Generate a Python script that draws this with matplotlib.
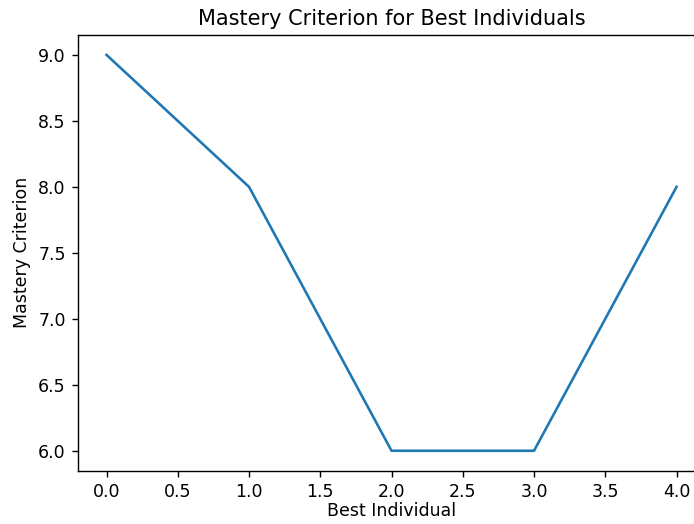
import matplotlib
matplotlib.use('Agg')
import matplotlib.pyplot as plt

# 最优个体的掌握度
individuals = [0, 1, 2, 3, 4]
mastery = [9, 8, 6, 6, 8]

fig = plt.figure(figsize=(694 / 125, 524 / 125), dpi=125)
ax = fig.add_axes([0.1124, 0.102, 0.9035, 0.831])
ax.plot(individuals, mastery)

ax.set_title('Mastery Criterion for Best Individuals')
ax.set_xlabel('Best Individual', labelpad=1)
ax.set_ylabel('Mastery Criterion')

plt.savefig('out.png', dpi=125)
